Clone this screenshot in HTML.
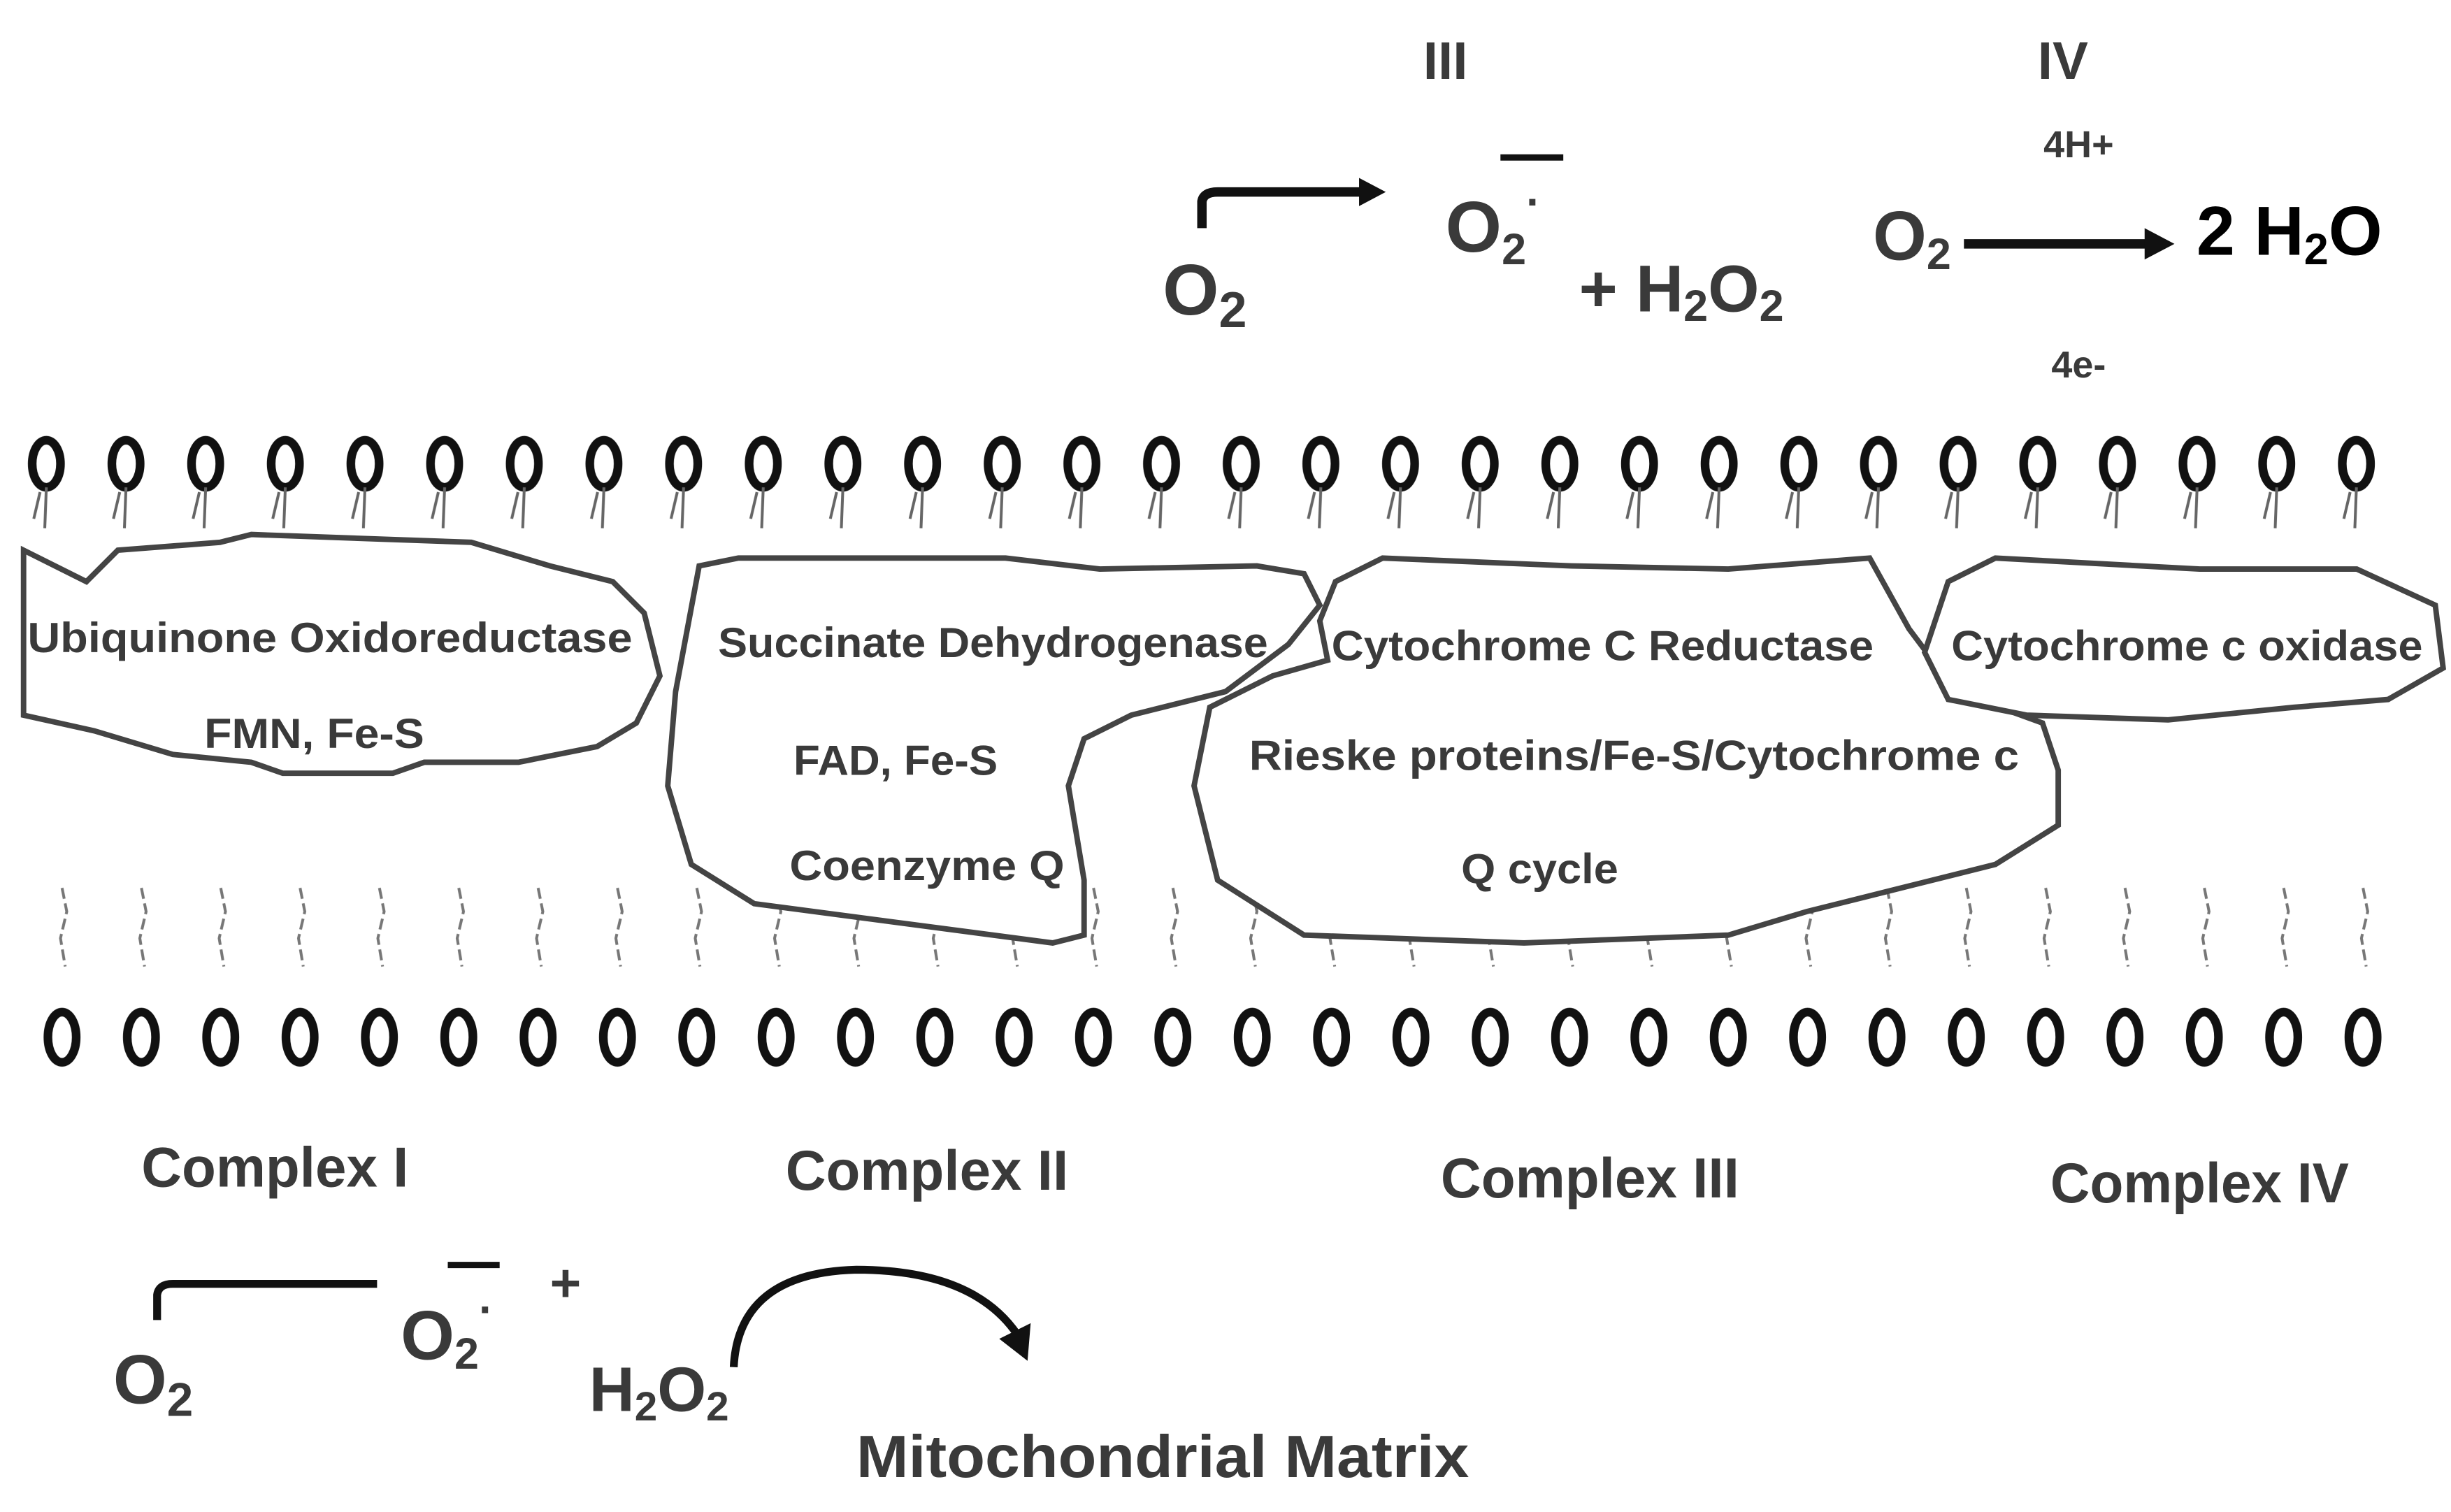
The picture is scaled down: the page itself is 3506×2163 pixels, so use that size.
<!DOCTYPE html>
<html><head><meta charset="utf-8"><style>
html,body{margin:0;padding:0;background:#fff;}
svg{display:block;}
text{font-family:"Liberation Sans",sans-serif;font-weight:bold;fill:#3a3a3a;}
</style></head><body>
<svg width="3506" height="2163" viewBox="0 0 1560 962" xmlns="http://www.w3.org/2000/svg">
<defs>
<pattern id="top" patternUnits="userSpaceOnUse" x="4.5" y="0" width="50.7" height="962">
 <ellipse cx="25" cy="295" rx="9" ry="15" fill="none" stroke="#111" stroke-width="5.5"/>
 <path d="M25 310 L24 336 M21 313 L17 330" stroke="#666" stroke-width="1.8" fill="none"/>
</pattern>
<pattern id="bot" patternUnits="userSpaceOnUse" x="14.5" y="0" width="50.5" height="962">
 <ellipse cx="25" cy="660" rx="9" ry="16" fill="none" stroke="#111" stroke-width="5.5"/>
 <path d="M25 565 L28 580 L24 597 L27 615" stroke="#777" stroke-width="1.8" fill="none" stroke-dasharray="7 3"/>
</pattern>
</defs>
<rect width="1560" height="962" fill="#fff"/>
<rect x="10" y="270" width="1515" height="70" fill="url(#top)"/>
<rect x="10" y="560" width="1510" height="120" fill="url(#bot)"/>

<g fill="#fff" stroke="#444" stroke-width="3.5">
<path d="M15 350 L55 370 L75 350 L140 345 L160 340 L300 345 L350 360 L390 370 L410 390 L420 430 L405 460 L380 475 L330 485 L270 485 L250 492 L180 492 L160 485 L110 480 L60 465 L15 455 Z"/>
<path d="M445 360 L470 355 L640 355 L700 362 L800 360 L830 365 L840 385 L820 410 L780 440 L720 455 L690 470 L680 500 L690 560 L690 595 L670 600 L480 575 L440 550 L425 500 L430 440 Z"/>
<path d="M850 370 L880 355 L1000 360 L1100 362 L1190 355 L1215 400 L1245 440 L1300 460 L1310 490 L1310 525 L1270 550 L1150 580 L1100 595 L970 600 L830 595 L775 560 L760 500 L770 450 L810 430 L845 420 L840 395 Z"/>
<path d="M1240 370 L1270 355 L1400 362 L1500 362 L1550 385 L1555 425 L1520 445 L1460 450 L1380 458 L1290 455 L1240 445 L1225 415 Z"/>
</g>

<g font-size="27" text-anchor="middle">
<text x="210" y="415" textLength="385" lengthAdjust="spacingAndGlyphs">Ubiquinone Oxidoreductase</text>
<text x="200" y="476" textLength="140" lengthAdjust="spacingAndGlyphs">FMN, Fe-S</text>
<text x="632" y="418" textLength="350" lengthAdjust="spacingAndGlyphs">Succinate Dehydrogenase</text>
<text x="570" y="493" textLength="130" lengthAdjust="spacingAndGlyphs">FAD, Fe-S</text>
<text x="590" y="560" textLength="175" lengthAdjust="spacingAndGlyphs">Coenzyme Q</text>
<text x="1020" y="420" textLength="345" lengthAdjust="spacingAndGlyphs">Cytochrome C Reductase</text>
<text x="1040" y="490" textLength="490" lengthAdjust="spacingAndGlyphs">Rieske proteins/Fe-S/Cytochrome c</text>
<text x="980" y="562" textLength="100" lengthAdjust="spacingAndGlyphs">Q cycle</text>
<text x="1392" y="420" textLength="300" lengthAdjust="spacingAndGlyphs">Cytochrome c oxidase</text>
</g>

<g font-size="36" text-anchor="middle">
<text x="175" y="755" textLength="170" lengthAdjust="spacingAndGlyphs">Complex I</text>
<text x="590" y="757" textLength="180" lengthAdjust="spacingAndGlyphs">Complex II</text>
<text x="1012" y="762" textLength="190" lengthAdjust="spacingAndGlyphs">Complex III</text>
<text x="1400" y="765" textLength="190" lengthAdjust="spacingAndGlyphs">Complex IV</text>
</g>

<text x="920" y="50" font-size="34" text-anchor="middle">III</text>
<text x="1313" y="50" font-size="34" text-anchor="middle">IV</text>
<text x="1323" y="100" font-size="24" text-anchor="middle">4H+</text>
<text x="1323" y="240" font-size="24" text-anchor="middle">4e-</text>
<text x="740" y="200" font-size="46" font-weight="normal">O<tspan font-size="32" dy="8">2</tspan></text>
<path d="M765 145 L765 128 Q766 122 775 122 L870 122" stroke="#111" stroke-width="6" fill="none"/>
<path d="M865 113 L882 122 L865 131 Z" fill="#111"/>
<text x="920" y="160" font-size="46" font-weight="normal">O<tspan font-size="28" dy="8">2</tspan><tspan font-size="28" dy="-30">·</tspan></text>
<path d="M955 100 L995 100" stroke="#111" stroke-width="4"/>
<text x="1005" y="198" font-size="42" font-weight="normal">+ H<tspan font-size="28" dy="6">2</tspan><tspan dy="-6">O</tspan><tspan font-size="28" dy="6">2</tspan></text>
<text x="1192" y="165" font-size="44" font-weight="normal">O<tspan font-size="28" dy="6">2</tspan></text>
<path d="M1250 155 L1372 155" stroke="#111" stroke-width="6"/>
<path d="M1365 145 L1384 155 L1365 165 Z" fill="#111"/>
<text x="1398" y="162" font-size="44" style="fill:#000">2 H<tspan font-size="28" dy="6">2</tspan><tspan dy="-6">O</tspan></text>

<text x="72" y="893" font-size="44" font-weight="normal">O<tspan font-size="30" dy="8">2</tspan></text>
<path d="M100 840 L100 824 Q101 817 110 817 L240 817" stroke="#111" stroke-width="5" fill="none"/>
<text x="255" y="865" font-size="44" font-weight="normal">O<tspan font-size="28" dy="6">2</tspan><tspan font-size="28" dy="-28">·</tspan></text>
<path d="M285 805 L318 805" stroke="#111" stroke-width="4"/>
<text x="350" y="828" font-size="34" font-weight="normal">+</text>
<text x="375" y="898" font-size="40" font-weight="normal">H<tspan font-size="26" dy="6">2</tspan><tspan dy="-6">O</tspan><tspan font-size="26" dy="6">2</tspan></text>
<path d="M467 870 Q470 810 545 808 Q620 808 648 850" stroke="#111" stroke-width="5" fill="none"/>
<path d="M636 852 L654 866 L656 842 Z" fill="#111"/>
<text x="740" y="940" font-size="38" text-anchor="middle" textLength="390" lengthAdjust="spacingAndGlyphs">Mitochondrial Matrix</text>
</svg>
</body></html>
